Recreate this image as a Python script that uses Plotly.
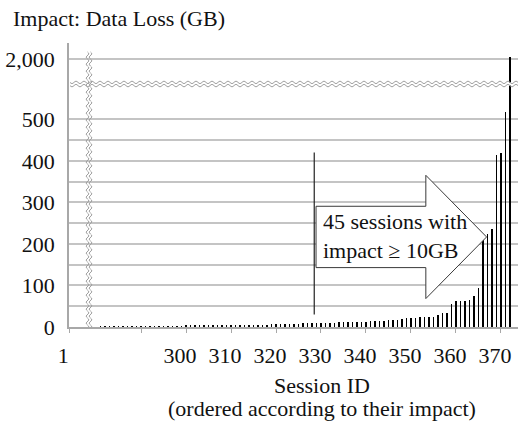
import math
import plotly.graph_objects as go

# ---------------- data ----------------
session_ids = list(range(281, 373))
impact_gb = [
    1.0, 1.0, 1.1, 1.1, 1.2, 1.2, 1.3, 1.3, 1.4,
    1.5, 1.5, 1.6, 1.7, 1.8, 1.9, 2.0, 2.1, 2.2, 2.3,
    2.5, 2.6, 2.8, 3.0, 3.1, 3.3, 3.5, 3.6, 3.8, 4.0,
    4.2, 4.5, 4.7, 5.0, 5.2, 5.4, 5.6, 5.8, 6.0, 6.3,
    6.6, 6.9, 7.2, 7.5, 7.8, 8.2, 8.6, 9.0, 9.5,
    10.0, 10.2, 10.4, 10.6, 10.8, 11.0, 11.3, 11.6, 11.9, 12.2, 12.5,
    13.0, 13.4, 13.8, 14.2, 15.0, 16.0, 16.5, 17.0,
    18.5, 21, 21, 21, 23, 23, 23,
    24, 28, 34, 34,
    56, 62, 62, 62, 66, 74, 95,
    215, 225, 237, 413, 420, 517, 2007,
]
x_tick_vals = [274.05, 290, 300, 310, 320, 330, 340, 350, 360, 370]
x_tick_text = ["1", "", "300", "310", "320", "330", "340", "350", "360", "370"]
y_tick_vals = [0, 50, 100, 150, 200, 250, 300, 350, 400, 450, 500]
y_tick_text = ["0", "", "100", "", "200", "", "300", "", "400", "", "500"]
y2_tick_vals = [2000]
y2_tick_text = ["2,000"]
threshold_session = 328.5
threshold_line_top = 420
annotation_text = "45 sessions with<br>impact ≥ 10GB"

# ---------------- layout geometry ----------------
W, H = 527, 423
L, R, T, B = 69, 518, 43, 327
BREAK_Y = 84
FONT = "Liberation Serif"
GRID = "#c4c4c4"
AXIS = "#a8a8a8"

low_frac = (B - BREAK_Y) / (B - T)


def pxx(px):
    return (px - L) / (R - L)


def pxy(py):
    return (B - py) / (B - T)


fig = go.Figure()
for yax in ("y", "y2"):
    fig.add_trace(go.Bar(
        x=session_ids, y=impact_gb, yaxis=yax, xaxis="x",
        width=0.22, marker=dict(color="#000000", line=dict(width=0)),
        showlegend=False, hoverinfo="skip",
    ))

axis_font = dict(family=FONT, size=22, color="#111111")

fig.update_layout(
    width=W, height=H,
    margin=dict(l=L, r=W - R, t=T, b=H - B, autoexpand=False),
    paper_bgcolor="white", plot_bgcolor="white",
    bargap=0,
    font=dict(family=FONT),
    xaxis=dict(
        range=[274.0, 373.78], anchor="y", automargin=False,
        tickmode="array", tickvals=x_tick_vals, ticktext=x_tick_text,
        ticks="outside", ticklen=4, tickcolor=AXIS, tickwidth=1,
        ticklabelshift=-6, ticklabelstandoff=4,
        showgrid=False, zeroline=False,
        showline=True, linecolor=AXIS, linewidth=1.5,
        tickfont=axis_font,
    ),
    yaxis=dict(
        domain=[0, low_frac], range=[0, (B - BREAK_Y) / 0.4154], automargin=False,
        tickmode="array", tickvals=y_tick_vals, ticktext=y_tick_text,
        ticks="", ticklabelstandoff=8,
        showgrid=True, gridcolor=GRID, gridwidth=1.5,
        zeroline=False, showline=True, linecolor=AXIS, linewidth=1.5,
        tickfont=axis_font,
    ),
    yaxis2=dict(
        domain=[low_frac, 1], range=[1940, 2040], anchor="x", automargin=False,
        tickmode="array", tickvals=y2_tick_vals, ticktext=y2_tick_text,
        ticks="", ticklabelstandoff=8,
        showgrid=True, gridcolor=GRID, gridwidth=1.5,
        zeroline=False, showline=True, linecolor=AXIS, linewidth=1.5,
        tickfont=axis_font,
    ),
)

shapes = []


def wave_path(horizontal, fixed, start, end, amp, period):
    pts = []
    n = int(abs(end - start))
    for i in range(n + 1):
        t = start + i * (end - start) / n
        off = amp * math.sin(2 * math.pi * (t - start) / period)
        if horizontal:
            pts.append((pxx(t), pxy(fixed + off)))
        else:
            pts.append((pxx(fixed + off), pxy(t)))
    return "M " + " L ".join(f"{a:.5f},{b:.5f}" for a, b in pts)


# horizontal axis break
shapes.append(dict(type="rect", xref="paper", yref="paper",
                   x0=pxx(L + 1), x1=pxx(R), y0=pxy(BREAK_Y + 1.6), y1=pxy(BREAK_Y - 1.6),
                   fillcolor="white", line=dict(width=0), layer="above"))
for off in (-1.6, 1.6):
    shapes.append(dict(type="path", xref="paper", yref="paper",
                       path=wave_path(True, BREAK_Y + off, L + 1, R, 1.2, 8),
                       line=dict(color="#a0a0a0", width=1), layer="above"))
# vertical axis break
for off in (-1.5, 1.5):
    shapes.append(dict(type="path", xref="paper", yref="paper",
                       path=wave_path(False, 89 + off, 52, B, 1.3, 7),
                       line=dict(color="#a0a0a0", width=1), layer="above"))

# threshold line
shapes.append(dict(type="line", xref="x", yref="y",
                   x0=threshold_session, x1=threshold_session, y0=30, y1=threshold_line_top,
                   line=dict(color="#222222", width=1.2), layer="above"))

# arrow (data coordinates)
ax0, ax1, ax2 = 328.9, 353.3, 366.8
ay_mid, ay_body_top, ay_body_bot, ay_head_top, ay_head_bot = 216.7, 290.6, 143.0, 365.2, 68.4
arrow_path = (f"M {ax0},{ay_body_top} L {ax1},{ay_body_top} L {ax1},{ay_head_top} "
              f"L {ax2},{ay_mid} L {ax1},{ay_head_bot} L {ax1},{ay_body_bot} "
              f"L {ax0},{ay_body_bot} Z")
shapes.append(dict(type="path", xref="x", yref="y", path=arrow_path,
                   fillcolor="white", line=dict(color="#3a3a3a", width=1), layer="above"))

fig.update_layout(shapes=shapes)

annotations = [
    dict(text=annotation_text, xref="x", yref="y", x=330.1, y=218,
         xanchor="left", yanchor="middle", align="left", showarrow=False,
         font=dict(family=FONT, size=22, color="#111111")),
    dict(text="Impact: Data Loss (GB)", xref="paper", yref="paper",
         x=pxx(11), y=pxy(18), xanchor="left", yanchor="middle", showarrow=False,
         font=dict(family=FONT, size=22, color="#111111")),
    dict(text="Session ID", xref="paper", yref="paper",
         x=pxx(321.5), y=pxy(385), xanchor="center", yanchor="middle", showarrow=False,
         font=dict(family=FONT, size=22, color="#111111")),
    dict(text="(ordered according to their impact)", xref="paper", yref="paper",
         x=pxx(321.5), y=pxy(408), xanchor="center", yanchor="middle", showarrow=False,
         font=dict(family=FONT, size=22, color="#111111")),
]
fig.update_layout(annotations=annotations)

fig.write_html("out.html", config={"displayModeBar": False},
               post_script="document.body.style.margin='0';")
